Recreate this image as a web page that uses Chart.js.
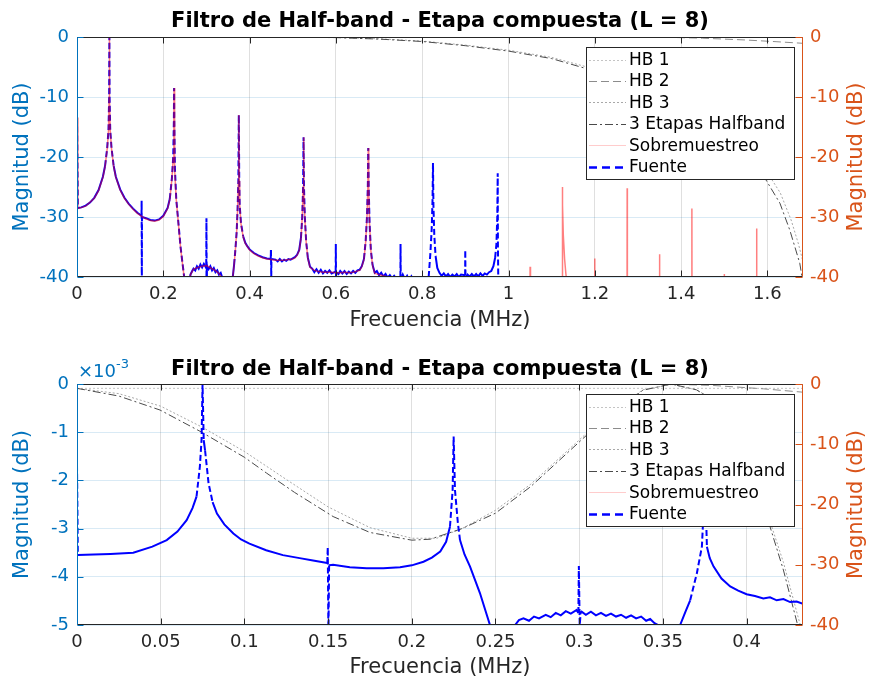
<!DOCTYPE html>
<html lang="es">
<head>
<meta charset="UTF-8">
<title>Filtro de Half-band - Etapa compuesta</title>
<script src="https://cdn.jsdelivr.net/npm/chart.js"></script>
<style>
  body { margin: 0; background: #fff; }
  #wrap { position: relative; width: 872px; height: 681px; }
  canvas { position: absolute; left: 0; }
</style>
</head>
<body>
<div id="wrap">
  <canvas id="top" width="872" height="340" style="top:0"></canvas>
  <canvas id="bottom" width="872" height="341" style="top:340px"></canvas>
</div>
<script>
// ---- datos: [frecuencia MHz, magnitud dB] ----
const xMaxTop = 1.6825;
const xMaxBottom = 0.4337;
const xTicksTop = [0, 0.2, 0.4, 0.6, 0.8, 1, 1.2, 1.4, 1.6];
const xTicksBottom = [0, 0.05, 0.1, 0.15, 0.2, 0.25, 0.3, 0.35, 0.4];
const yTicksDb = [-40, -30, -20, -10, 0];
const yTicksMilli = [-0.005, -0.004, -0.003, -0.002, -0.001, 0];

// grafico superior
const fuenteTop = [[0,-13.4],[0.002,-28.5],[0.01,-28.4],[0.02,-28.1],[0.03,-27.6],[0.04,-26.8],[0.05,-25.5],[0.06,-23.3],[0.065,-21.5],[0.07,-18.5],[0.073,-15.5],[0.0745,-10],[0.075,0],[0.0755,-10],[0.077,-15.5],[0.08,-18.5],[0.085,-21.5],[0.09,-23.3],[0.1,-25.4],[0.11,-26.8],[0.12,-27.8],[0.13,-28.6],[0.14,-29.3],[0.1495,-29.8],[0.1498,-27.3],[0.1502,-42],[0.1506,-30],[0.16,-30.2],[0.17,-30.5],[0.18,-30.6],[0.19,-30.4],[0.2,-29.8],[0.21,-28.5],[0.215,-27],[0.22,-23.5],[0.223,-20],[0.2245,-14],[0.225,-8.5],[0.2255,-14],[0.227,-22],[0.23,-27],[0.235,-31],[0.24,-35],[0.245,-38],[0.25,-41],[0.255,-45],[0.26,-41],[0.263,-39.6],[0.267,-39.0],[0.27,-38.6],[0.274,-38.9],[0.278,-38.2],[0.282,-38.6],[0.286,-37.9],[0.29,-38.4],[0.294,-37.8],[0.298,-38.3],[0.2995,-38],[0.3,-30.2],[0.3005,-40],[0.301,-38.1],[0.305,-38.7],[0.309,-38.2],[0.313,-38.9],[0.317,-38.5],[0.321,-39.2],[0.325,-38.9],[0.329,-39.6],[0.333,-39.3],[0.337,-40.2],[0.342,-41],[0.35,-45],[0.358,-42],[0.361,-40],[0.364,-38],[0.367,-35.5],[0.37,-32.5],[0.372,-29],[0.374,-24],[0.375,-13],[0.376,-24],[0.377,-28],[0.38,-31],[0.385,-33.2],[0.39,-34.3],[0.395,-34.9],[0.4,-35.4],[0.41,-36],[0.42,-36.4],[0.43,-36.7],[0.44,-36.9],[0.449,-37],[0.4495,-35.5],[0.4502,-40],[0.4506,-37],[0.46,-37.1],[0.465,-37.4],[0.47,-37.0],[0.475,-37.4],[0.48,-37.1],[0.485,-37.3],[0.49,-37.0],[0.495,-37.1],[0.5,-36.9],[0.505,-36.7],[0.51,-36.3],[0.515,-35.5],[0.519,-33.5],[0.522,-30],[0.524,-25],[0.525,-16.7],[0.526,-25],[0.528,-30],[0.531,-34],[0.535,-36.8],[0.54,-38.3],[0.545,-38.6],[0.55,-39.2],[0.555,-38.7],[0.56,-39.3],[0.565,-38.8],[0.57,-39.4],[0.575,-39.0],[0.58,-39.3],[0.585,-38.9],[0.59,-39.4],[0.5995,-39.1],[0.5998,-34.5],[0.6003,-40],[0.601,-39.2],[0.606,-39.5],[0.61,-39.0],[0.615,-39.4],[0.62,-39.0],[0.625,-39.5],[0.63,-39.1],[0.635,-39.4],[0.64,-39.0],[0.645,-39.3],[0.65,-38.9],[0.655,-38.8],[0.66,-38.2],[0.665,-37],[0.669,-34],[0.672,-30],[0.674,-25],[0.675,-18.5],[0.676,-25],[0.678,-31],[0.681,-35.5],[0.685,-38],[0.69,-39.3],[0.695,-39.0],[0.7,-39.7],[0.705,-39.3],[0.71,-39.9],[0.715,-39.5],[0.72,-40.1],[0.725,-39.7],[0.73,-40.2],[0.735,-39.8],[0.74,-40.3],[0.7495,-40],[0.7498,-34.5],[0.7503,-40.5],[0.755,-39.6],[0.76,-40.4],[0.765,-39.8],[0.77,-40.6],[0.775,-39.9],[0.78,-40.5],[0.79,-40.3],[0.8,-41],[0.81,-42],[0.815,-40],[0.819,-36],[0.822,-32],[0.824,-27],[0.825,-21],[0.826,-28],[0.828,-33],[0.831,-36.5],[0.835,-38.5],[0.84,-39.3],[0.845,-39.8],[0.85,-39.4],[0.855,-39.9],[0.86,-39.5],[0.865,-40.0],[0.87,-39.6],[0.875,-39.9],[0.88,-39.5],[0.885,-40.0],[0.89,-39.6],[0.8995,-39.7],[0.8998,-35.5],[0.9003,-40.2],[0.905,-39.6],[0.91,-39.9],[0.915,-39.5],[0.92,-39.9],[0.925,-39.5],[0.93,-39.9],[0.935,-39.4],[0.94,-39.8],[0.945,-39.4],[0.95,-39.6],[0.955,-39.2],[0.96,-39.0],[0.965,-38.2],[0.969,-36.8],[0.972,-34.5],[0.974,-30],[0.975,-22.7],[0.9755,-35],[0.977,-45],[0.98,-60]];

const sobreTop = [[0,-13.4],[0.002,-28.6],[0.02,-28.2],[0.04,-26.9],[0.05,-25.6],[0.06,-23.4],[0.065,-21.6],[0.07,-18.6],[0.073,-15.6],[0.0745,-10],[0.075,0],[0.0755,-10],[0.077,-15.6],[0.08,-18.6],[0.085,-21.6],[0.09,-23.4],[0.1,-25.5],[0.11,-26.9],[0.12,-27.9],[0.13,-28.7],[0.14,-29.4],[0.15,-29.9],[0.16,-30.3],[0.17,-30.6],[0.18,-30.7],[0.19,-30.5],[0.2,-29.9],[0.21,-28.6],[0.215,-27.1],[0.22,-23.6],[0.223,-20.1],[0.2245,-14],[0.225,-8.5],[0.2255,-14],[0.227,-22.1],[0.23,-27.1],[0.235,-31.1],[0.24,-35.1],[0.245,-38.1],[0.25,-41],[0.255,-45],[0.26,-41],[0.263,-39.6],[0.27,-38.7],[0.28,-38.4],[0.29,-38.2],[0.3,-38.1],[0.31,-38.5],[0.32,-38.9],[0.33,-39.5],[0.337,-40.2],[0.342,-41],[0.35,-45],[0.358,-42],[0.361,-40],[0.364,-38],[0.367,-35.5],[0.37,-32.5],[0.372,-29],[0.374,-24],[0.375,-13],[0.376,-24],[0.377,-28],[0.38,-31.1],[0.385,-33.3],[0.39,-34.4],[0.4,-35.5],[0.41,-36.1],[0.42,-36.5],[0.43,-36.8],[0.44,-37],[0.45,-37.1],[0.46,-37.2],[0.47,-37.2],[0.48,-37.2],[0.49,-37.1],[0.5,-37],[0.505,-36.8],[0.51,-36.4],[0.515,-35.6],[0.519,-33.6],[0.522,-30.1],[0.524,-25],[0.525,-16.7],[0.526,-25],[0.528,-30.1],[0.531,-34.1],[0.535,-36.9],[0.54,-38.4],[0.55,-38.9],[0.56,-39.1],[0.57,-39.2],[0.58,-39.2],[0.59,-39.2],[0.6,-39.3],[0.61,-39.3],[0.62,-39.2],[0.63,-39.3],[0.64,-39.2],[0.65,-39.0],[0.655,-38.9],[0.66,-38.3],[0.665,-37.1],[0.669,-34.1],[0.672,-30.1],[0.674,-25],[0.675,-18.5],[0.676,-25],[0.678,-31.1],[0.681,-35.6],[0.685,-38.1],[0.69,-39.4],[0.7,-39.6],[0.71,-39.8],[0.72,-40],[0.73,-40.1],[0.74,-40.3],[0.75,-41],[0.76,-45],[1.0,-60],[1.049,-60],[1.05,-38.3],[1.051,-60],[1.124,-45],[1.1248,-25],[1.1255,-28],[1.127,-33],[1.13,-37],[1.133,-39.5],[1.136,-41],[1.14,-60],[1.1995,-60],[1.2,-36.9],[1.2005,-60],[1.2745,-60],[1.275,-25.2],[1.2755,-60],[1.3495,-60],[1.35,-36.2],[1.3505,-60],[1.4245,-60],[1.425,-28.6],[1.4255,-60],[1.4995,-60],[1.5,-39.5],[1.5005,-60],[1.5745,-60],[1.575,-31.9],[1.5755,-60],[1.6825,-60]];

const hb1Top = [[0,-0.05],[1.6825,-0.05]];
const hb2Top = [[0,0],[1.35,-0.02],[1.45,-0.2],[1.55,-0.5],[1.62,-0.78],[1.6825,-1.05]];
const hb3Top = [[0,0],[0.5,-0.02],[0.6,-0.07],[0.7,-0.3],[0.8,-0.68],[0.9,-1.35],[1.0,-2.2],[1.1,-3.4],[1.177,-4.9],[1.25,-6.8],[1.35,-9.8],[1.45,-13.8],[1.55,-19],[1.6,-22.6],[1.63,-26],[1.655,-30.5],[1.672,-34.5],[1.6825,-37.5]];
const etapasTop = [[0,0],[0.45,-0.02],[0.5,-0.04],[0.6,-0.1],[0.7,-0.35],[0.8,-0.75],[0.9,-1.45],[1.0,-2.35],[1.1,-3.6],[1.177,-5.2],[1.25,-7.2],[1.35,-10.3],[1.45,-14.5],[1.55,-20],[1.594,-23.5],[1.629,-27.7],[1.652,-32.2],[1.675,-37.7],[1.6825,-41]];

// grafico inferior (filtros en dB x1e-3 en el eje izquierdo, fuente en dB en el derecho)
const fuenteBottom = [[0,-13.4],[0.0005,-28.4],[0.01,-28.3],[0.02,-28.2],[0.0336,-28.0],[0.045,-27.0],[0.0536,-25.9],[0.06,-24.5],[0.0655,-22.6],[0.069,-20.6],[0.0714,-18.7],[0.0734,-13.7],[0.0744,-9.3],[0.075,0],[0.0757,-9.3],[0.0765,-11],[0.0786,-16.5],[0.081,-19.6],[0.0836,-21.5],[0.088,-23.3],[0.0934,-24.8],[0.098,-25.8],[0.103,-26.5],[0.113,-27.6],[0.123,-28.4],[0.133,-28.9],[0.141,-29.3],[0.1495,-29.7],[0.1498,-27.1],[0.1502,-42],[0.1506,-30.1],[0.153,-30.0],[0.163,-30.4],[0.173,-30.6],[0.183,-30.6],[0.193,-30.4],[0.2,-30.1],[0.207,-29.5],[0.212,-28.8],[0.217,-27.8],[0.2205,-26.2],[0.2228,-23.7],[0.2244,-17.6],[0.225,-8.7],[0.2258,-17.6],[0.2275,-23],[0.2288,-25.9],[0.2315,-28.3],[0.2348,-30.3],[0.2407,-34.7],[0.2467,-40],[0.25,-45],[0.258,-45],[0.2617,-40],[0.264,-39.2],[0.2667,-38.9],[0.27,-39.3],[0.273,-38.6],[0.276,-38.9],[0.28,-38.3],[0.283,-38.7],[0.286,-38.0],[0.289,-38.4],[0.292,-37.7],[0.295,-38.1],[0.2985,-37.5],[0.2995,-38],[0.2998,-30.2],[0.3003,-40],[0.301,-37.7],[0.304,-38.3],[0.307,-37.8],[0.31,-38.4],[0.313,-38.0],[0.316,-38.5],[0.319,-38.1],[0.322,-38.6],[0.325,-38.3],[0.328,-38.8],[0.331,-38.4],[0.334,-38.9],[0.337,-38.6],[0.34,-39.3],[0.3424,-39.0],[0.345,-39.7],[0.3484,-40.2],[0.352,-45],[0.357,-42],[0.3603,-40],[0.3635,-37.8],[0.3663,-35.9],[0.3703,-31.4],[0.3733,-27],[0.3745,-20],[0.375,-13],[0.3756,-20],[0.3763,-27],[0.378,-28.9],[0.3803,-30.3],[0.385,-32.3],[0.3902,-33.6],[0.395,-34.3],[0.4,-34.9],[0.405,-35.2],[0.41,-35.6],[0.414,-35.4],[0.418,-35.9],[0.422,-35.7],[0.426,-36.2],[0.4299,-36.1],[0.4337,-36.5]];

const hb1Bottom = [[0,-0.00009],[0.4337,-0.00009]];
const hb2Bottom = [[0,-0.000003],[0.355,-0.000005],[0.38,-0.00003],[0.41,-0.0001],[0.4337,-0.00017]];
const hb3Bottom = [[0,-0.00009],[0.025,-0.0002],[0.05,-0.00046],[0.075,-0.0009],[0.1,-0.0014],[0.125,-0.00198],[0.15,-0.00255],[0.175,-0.00298],[0.2,-0.0032],[0.215,-0.0032],[0.23,-0.003],[0.25,-0.00262],[0.271,-0.00208],[0.3045,-0.00102],[0.32,-0.00057],[0.338,-0.00012],[0.355,-0.00001],[0.37,-0.00012],[0.38,-0.00032],[0.39,-0.00072],[0.4,-0.0014],[0.407,-0.00205],[0.414,-0.00285],[0.422,-0.0037],[0.4305,-0.0048],[0.4337,-0.0052]];
const etapasBottom = [[0,-0.00009],[0.025,-0.00025],[0.0496,-0.00054],[0.0745,-0.001],[0.1,-0.00152],[0.1133,-0.00185],[0.13,-0.00225],[0.153,-0.00275],[0.175,-0.00308],[0.2,-0.00324],[0.211,-0.00322],[0.23,-0.003],[0.25,-0.00268],[0.271,-0.00213],[0.3045,-0.00106],[0.32,-0.0006],[0.338,-0.00013],[0.355,0],[0.37,-0.00012],[0.38,-0.00033],[0.39,-0.00075],[0.4,-0.00145],[0.407,-0.0021],[0.414,-0.00296],[0.422,-0.00386],[0.4305,-0.005],[0.4337,-0.0055]];

// ---- estilo ----
const AZUL = '#0072BD', NARANJA = '#D95319', TXT = '#262626';
Chart.defaults.font.family = '"DejaVu Sans", sans-serif';
Chart.defaults.animation = false;

const estilos = {
  hb1:    { label: 'HB 1', color: '#c4c4c4', dash: [2, 2], width: 1 },
  hb2:    { label: 'HB 2', color: '#8c8c8c', dash: [8, 4], width: 1 },
  hb3:    { label: 'HB 3', color: '#a8a8a8', dash: [2, 2], width: 1 },
  etapas: { label: '3 Etapas Halfband', color: '#4a4a4a', dash: [8, 3, 2, 3], width: 1 },
  sobre:  { label: 'Sobremuestreo', color: 'rgba(255,0,0,0.5)', legend: 'rgba(255,0,0,0.2)', dash: [], width: 1.5 },
  fuente: { label: 'Fuente', color: '#0000ff', dash: [7, 4], width: 2 }
};
const ordenLeyenda = ['hb1', 'hb2', 'hb3', 'etapas', 'sobre', 'fuente'];

function pts(arr) { return arr.map(p => ({ x: p[0], y: p[1] })); }

// los picos del trazo denso se ven discontinuos; el resto se ve continuo
function dashPicos(ctx) {
  const dx = Math.abs(ctx.p1.x - ctx.p0.x), dy = Math.abs(ctx.p1.y - ctx.p0.y);
  return dy > 12 && dy > 4 * dx ? [6, 3] : [];
}

function serie(key, data, eje, orden) {
  const e = estilos[key];
  const ds = {
    label: e.label, data: pts(data), yAxisID: eje, order: orden,
    borderColor: e.color, borderWidth: e.width, borderDash: e.dash,
    pointRadius: 0, tension: 0, fill: false
  };
  if (key === 'fuente') ds.segment = { borderDash: dashPicos };
  return ds;
}

// marco, marcas interiores, titulos y leyenda estilo MATLAB
const marcoPlugin = {
  id: 'marco',
  afterDatasetsDraw(chart, args, o) {
    const { ctx, chartArea: a, scales } = chart;
    const L = Math.round(a.left) + 0.5, R = Math.round(a.right) - 0.5;
    const T = Math.round(a.top) + 0.5, B = Math.round(a.bottom) - 0.5;
    ctx.save();
    ctx.lineWidth = 1;
    ctx.setLineDash([]);
    // marcas eje x
    ctx.strokeStyle = TXT;
    ctx.beginPath();
    scales.x.ticks.forEach(t => {
      const px = Math.round(scales.x.getPixelForValue(t.value)) + 0.5;
      ctx.moveTo(px, B); ctx.lineTo(px, B - 6);
      ctx.moveTo(px, T); ctx.lineTo(px, T + 6);
    });
    ctx.moveTo(L, T); ctx.lineTo(R, T);
    ctx.moveTo(L, B); ctx.lineTo(R, B);
    ctx.stroke();
    // eje izquierdo
    ctx.strokeStyle = AZUL;
    ctx.beginPath();
    scales.y.ticks.forEach(t => {
      const py = Math.round(scales.y.getPixelForValue(t.value)) + 0.5;
      ctx.moveTo(L, py); ctx.lineTo(L + 6, py);
    });
    ctx.moveTo(L, T); ctx.lineTo(L, B);
    ctx.stroke();
    // eje derecho
    ctx.strokeStyle = NARANJA;
    ctx.beginPath();
    scales.y2.ticks.forEach(t => {
      const py = Math.round(scales.y2.getPixelForValue(t.value)) + 0.5;
      ctx.moveTo(R, py); ctx.lineTo(R - 7, py);
    });
    ctx.moveTo(R, T); ctx.lineTo(R, B);
    ctx.stroke();

    // titulo del eje derecho, leido de abajo hacia arriba
    ctx.save();
    ctx.translate(857, (a.top + a.bottom) / 2);
    ctx.rotate(-Math.PI / 2);
    ctx.fillStyle = NARANJA;
    ctx.font = '21px "DejaVu Sans", sans-serif';
    ctx.textAlign = 'center';
    ctx.textBaseline = 'middle';
    ctx.fillText('Magnitud (dB)', 0, 0);
    ctx.restore();

    // titulo
    ctx.fillStyle = '#000';
    ctx.font = 'bold 21px "DejaVu Sans", sans-serif';
    ctx.textAlign = 'center';
    ctx.textBaseline = 'alphabetic';
    ctx.fillText(o.titulo, (a.left + a.right) / 2, o.tituloY);

    // multiplicador x10^-3
    if (o.exponente) {
      ctx.fillStyle = AZUL;
      ctx.textAlign = 'left';
      ctx.font = '18px "DejaVu Sans", sans-serif';
      ctx.fillText('\u00d710', a.left + 1, o.exponenteY);
      const w = ctx.measureText('\u00d710').width;
      ctx.font = '13px "DejaVu Sans", sans-serif';
      ctx.fillText('-3', a.left + 1 + w, o.exponenteY - 9);
    }

    // leyenda
    const lx = o.leyenda.x, ly = o.leyenda.y, lw = 208, lh = 132;
    ctx.fillStyle = '#fff';
    ctx.fillRect(lx, ly, lw, lh);
    ctx.strokeStyle = TXT;
    ctx.strokeRect(lx + 0.5, ly + 0.5, lw, lh);
    ctx.font = '17px "DejaVu Sans", sans-serif';
    ctx.textBaseline = 'middle';
    ctx.textAlign = 'left';
    ordenLeyenda.forEach((k, i) => {
      const e = estilos[k];
      const yy = ly + 12.5 + 21.4 * i;
      ctx.strokeStyle = e.legend || e.color;
      ctx.lineWidth = k === 'fuente' ? 2.5 : 1;
      ctx.setLineDash(k === 'fuente' ? [8, 5] : e.dash);
      ctx.beginPath();
      ctx.moveTo(lx + 3, Math.round(yy) + 0.5);
      ctx.lineTo(lx + 40, Math.round(yy) + 0.5);
      ctx.stroke();
      ctx.fillStyle = '#000';
      ctx.fillText(e.label, lx + 43, yy + 1);
    });
    ctx.restore();
  }
};

function ejes(xMax, xTicks, yLeftMin, yLeftTicks, leftFmt, xHeight, xTitlePad) {
  return {
    x: {
      type: 'linear', min: 0, max: xMax,
      afterBuildTicks: s => { s.ticks = xTicks.map(v => ({ value: v })); },
      ticks: { color: TXT, font: { size: 18 }, padding: 7, maxRotation: 0, autoSkip: false, callback: v => String(v) },
      grid: { color: 'rgba(38,38,38,0.15)', drawTicks: false },
      border: { display: false },
      title: { display: true, text: 'Frecuencia (MHz)', color: TXT, font: { size: 21 }, padding: { top: 0, bottom: xTitlePad } },
      afterFit: s => { s.height = xHeight; }
    },
    y: {
      position: 'left', min: yLeftMin, max: 0,
      afterBuildTicks: s => { s.ticks = yLeftTicks.map(v => ({ value: v })); },
      ticks: { color: AZUL, font: { size: 18 }, padding: 8, autoSkip: false, callback: leftFmt },
      grid: { color: 'rgba(0,114,189,0.15)', drawTicks: false },
      border: { display: false },
      title: { display: true, text: 'Magnitud (dB)', color: AZUL, font: { size: 21 }, padding: { top: 10, bottom: 0 } },
      afterFit: s => { s.width = 77; }
    },
    y2: {
      position: 'right', min: -40, max: 0,
      afterBuildTicks: s => { s.ticks = yTicksDb.map(v => ({ value: v })); },
      ticks: { color: NARANJA, font: { size: 18 }, padding: 7, autoSkip: false, callback: v => String(v) },
      grid: { display: false, drawTicks: false },
      border: { display: false },
      afterFit: s => { s.width = 69; }
    }
  };
}

new Chart(document.getElementById('top'), {
  type: 'line',
  data: {
    datasets: [
      serie('sobre', sobreTop, 'y2', 0),
      serie('fuente', fuenteTop, 'y2', 1),
      serie('etapas', etapasTop, 'y', 2),
      serie('hb3', hb3Top, 'y', 3),
      serie('hb2', hb2Top, 'y', 4),
      serie('hb1', hb1Top, 'y', 5)
    ]
  },
  options: {
    responsive: false, devicePixelRatio: 1, events: [],
    layout: { padding: { top: 37, left: 0, right: 0, bottom: 0 } },
    scales: ejes(xMaxTop, xTicksTop, -40, yTicksDb, v => String(v), 63, 6.4),
    plugins: {
      legend: { display: false }, tooltip: { enabled: false },
      marco: { titulo: 'Filtro de Half-band - Etapa compuesta (L = 8)', tituloY: 27, leyenda: { x: 586, y: 47 } }
    }
  },
  plugins: [marcoPlugin]
});

new Chart(document.getElementById('bottom'), {
  type: 'line',
  data: {
    datasets: [
      serie('fuente', fuenteBottom, 'y2', 1),
      serie('etapas', etapasBottom, 'y', 2),
      serie('hb3', hb3Bottom, 'y', 3),
      serie('hb2', hb2Bottom, 'y', 4),
      serie('hb1', hb1Bottom, 'y', 5)
    ]
  },
  options: {
    responsive: false, devicePixelRatio: 1, events: [],
    layout: { padding: { top: 44, left: 0, right: 0, bottom: 0 } },
    scales: ejes(xMaxBottom, xTicksBottom, -0.005, yTicksMilli, v => String(Math.round(v * 1000)), 56, 0.4),
    plugins: {
      legend: { display: false }, tooltip: { enabled: false },
      marco: { titulo: 'Filtro de Half-band - Etapa compuesta (L = 8)', tituloY: 35, exponente: true, exponenteY: 37, leyenda: { x: 586, y: 54 } }
    }
  },
  plugins: [marcoPlugin]
});
</script>
</body>
</html>
